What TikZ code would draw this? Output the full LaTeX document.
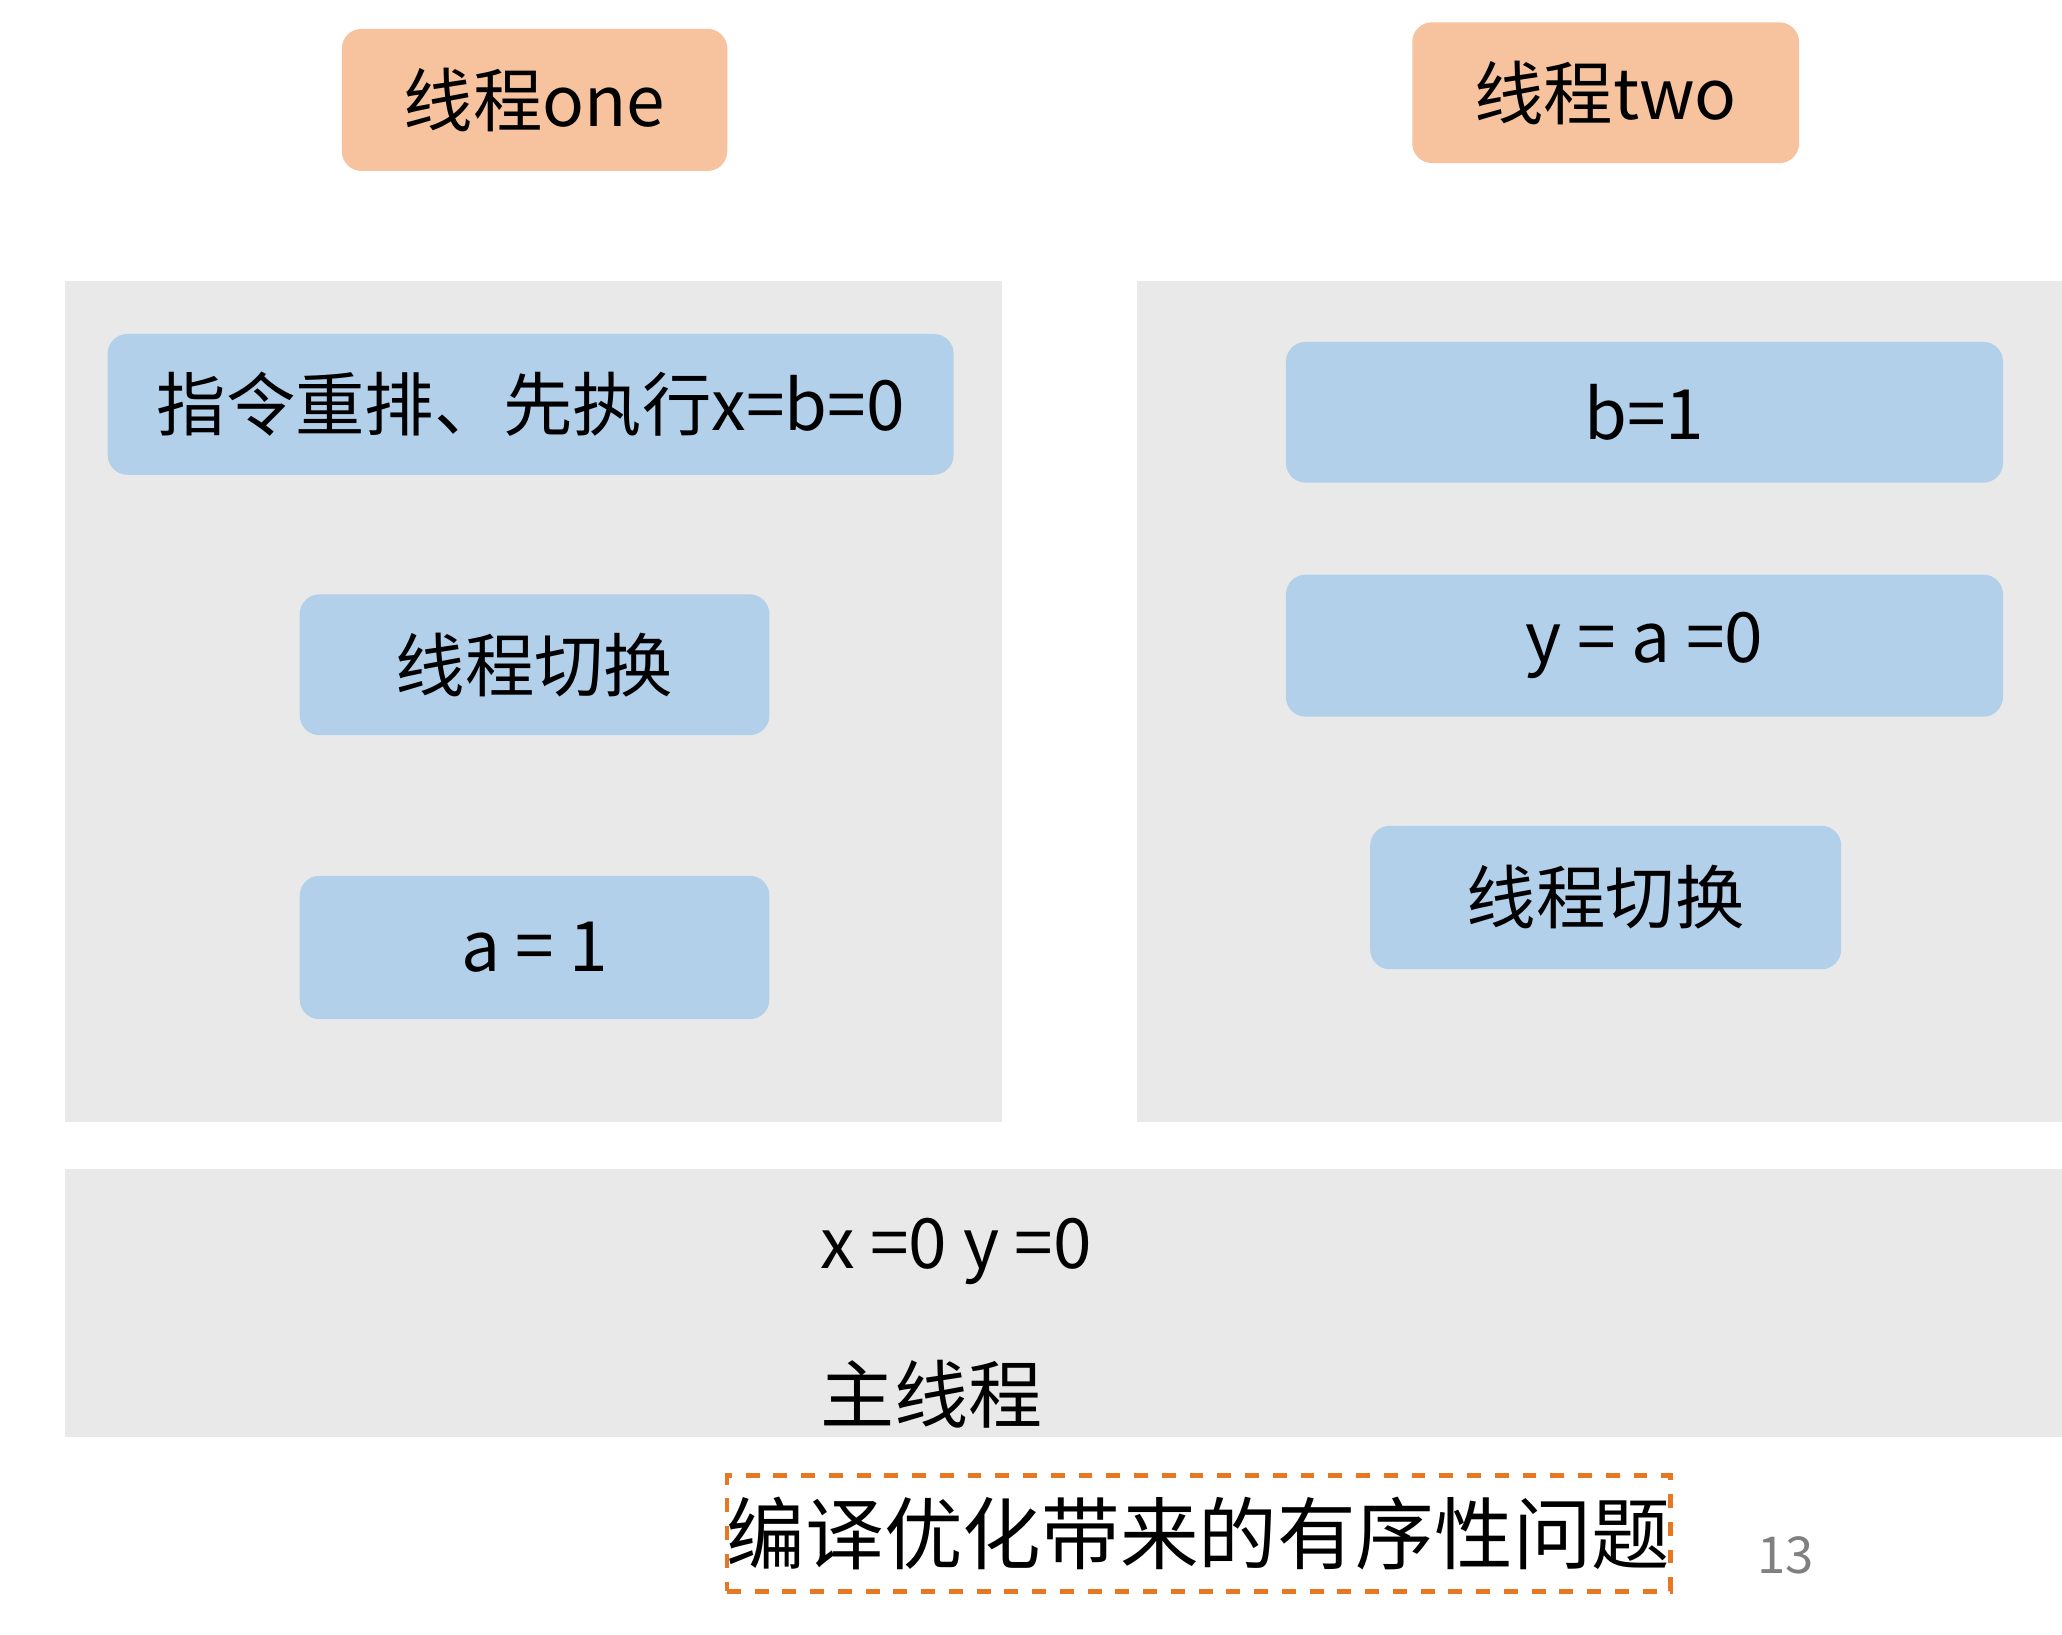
\documentclass[tikz,border=0pt]{standalone}
\usepackage{fontspec}
\setmainfont{Noto Sans CJK SC}
\usetikzlibrary{positioning}
\definecolor{threadorange}{HTML}{F6C39E}
\definecolor{stepblue}{HTML}{B3D0EB}
\definecolor{panelgray}{HTML}{E9E9E9}
\definecolor{captionorange}{HTML}{E87722}
\tikzset{threadbox/.style={fill=threadorange, rounded corners=0.15cm, inner sep=0pt, font=\fontsize{15}{18}\selectfont},
  stepbox/.style={fill=stepblue, rounded corners=0.15cm, inner sep=0pt, minimum height=1.07cm, font=\fontsize{15}{18}\selectfont},
  panelbox/.style={fill=panelgray, inner sep=0pt}}
\begin{document}
\begin{tikzpicture}[x=0.01cm,y=-0.01cm]
  \useasboundingbox (0,0) rectangle (1568,1243);
  % threads
  \node[threadbox, minimum width=2.93cm, minimum height=1.08cm] (one) at (406.5,76) {线程one};
  \node[threadbox, minimum width=2.94cm, minimum height=1.07cm] (two) at (1221,70.5) {线程two};
  % panels
  \node[panelbox, minimum width=7.12cm, minimum height=6.39cm] (left) at (406,533.5) {};
  \node[panelbox, minimum width=7.03cm, minimum height=6.39cm] (right) at (1216.5,533.5) {};
  \node[panelbox, minimum width=15.18cm, minimum height=2.04cm] (main) at (809,991) {};
  % thread one steps
  \node[stepbox, minimum width=6.43cm] (reorder) at (403.5,307.5) {指令重排、先执行x=b=0};
  \node[stepbox, minimum width=3.57cm] (switchone) at (406.5,505.5) {线程切换};
  \node[stepbox, minimum width=3.57cm, minimum height=1.09cm] (seta) at (406.5,720.5) {a = 1};
  % thread two steps
  \node[stepbox, minimum width=5.45cm] (setb) at (1250.5,313.5) {b=1};
  \node[stepbox, minimum width=5.45cm, minimum height=1.08cm] (sety) at (1250.5,491) {y = a =0};
  \node[stepbox, minimum width=3.58cm, minimum height=1.09cm] (switchtwo) at (1221,682.5) {线程切换};
  % main thread
  \node[font=\fontsize{15}{18}\selectfont] (init) at (727,952) {x =0 y =0};
  \node[font=\fontsize{16}{19}\selectfont] (mainlabel) at (708,1060) {主线程};
  % caption
  \node[draw=captionorange, dashed, line width=1pt, minimum width=7.09cm, minimum height=0.88cm, inner sep=0pt,
        font=\fontsize{17}{20}\selectfont] (title) at (911.5,1166) {编译优化带来的有序性问题};
  \node[text=gray, font=\fontsize{11}{13}\selectfont] (page) at (1358,1183) {13};
\end{tikzpicture}
\end{document}
